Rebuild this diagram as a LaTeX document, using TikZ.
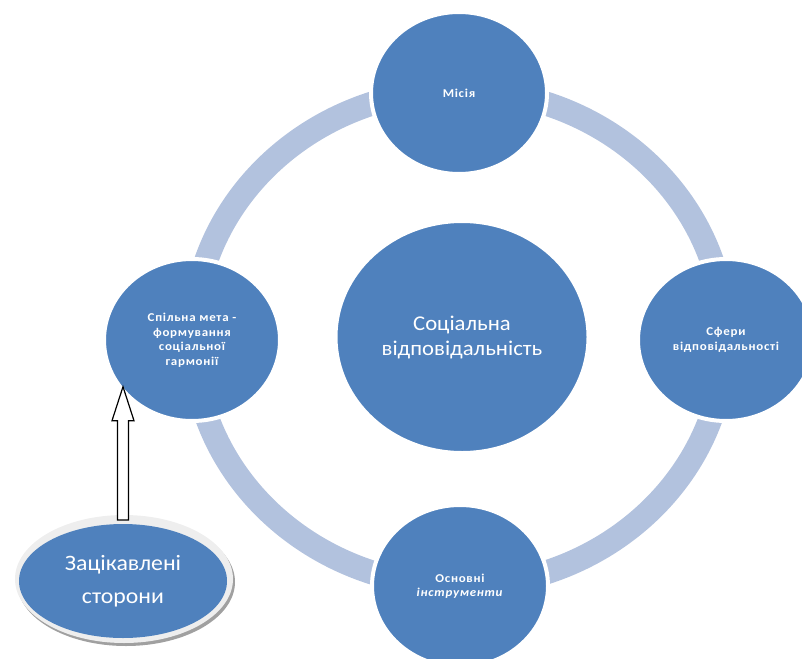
\documentclass[tikz,border=0pt]{standalone}
\usepackage{fontspec}
\setmainfont{Carlito}
\newfontfamily\widefont[FakeStretch=1.08]{Carlito}
\newfontfamily\spacedfont[FakeStretch=1.08,LetterSpace=6]{Carlito}
\usetikzlibrary{shapes.geometric,calc}
\definecolor{blockblue}{RGB}{79,129,189}
\definecolor{ringblue}{RGB}{178,194,222}
\definecolor{rimgray}{RGB}{238,238,238}
\definecolor{shadegray}{RGB}{160,160,160}
\begin{document}
\begin{tikzpicture}[x=1pt,y=-1pt,inner sep=0pt,outer sep=0pt,
  bubble/.style={ellipse,fill=blockblue,draw=white,line width=4pt,text=white,align=center},
  smallbubble/.style={bubble,minimum width=176pt,minimum height=162pt,font=\spacedfont\fontsize{12}{14.5}\selectfont\bfseries}]

\useasboundingbox (0,0) rectangle (802,658);
\clip (0,0) rectangle (802,658);

\draw[ringblue,line width=24pt] (459,338) ellipse [x radius=266, y radius=248];

\node[bubble,minimum width=253pt,minimum height=232pt,font=\widefont\fontsize{21}{25}\selectfont] (core) at (462,337) {Соціальна\\відповідальність};

\node[smallbubble] (mission) at (459,93) {Місія};
\node[smallbubble] (spheres) at (726,340) {Сфери\\відповідальності};
\node[smallbubble] (tools) at (460,586) {Основні\\\textit{інструменти}};
\node[smallbubble] (goal) at (192,340) {Спільна мета -\\формування\\соціальної\\гармонії};

\fill[shadegray] (126,582) ellipse [x radius=109, y radius=64];
\fill[rimgray] (124,579) ellipse [x radius=109, y radius=64];
\node[ellipse,fill=blockblue,minimum width=208pt,minimum height=114pt,text=white,align=center,font=\widefont\fontsize{22}{33}\selectfont] (stake) at (123,581) {Зацікавлені\\сторони};

\coordinate (tip) at (goal.213);
\draw[line width=1.2pt,fill=white] ($(stake.north)+(-5.5,-4)$) -- ($(stake.north |- tip)+(-5.5,34)$) -- ($(stake.north |- tip)+(-11,34)$) -- (stake.north |- tip) -- ($(stake.north |- tip)+(11,34)$) -- ($(stake.north |- tip)+(5.5,34)$) -- ($(stake.north)+(5.5,-4)$) -- cycle;

\end{tikzpicture}
\end{document}
